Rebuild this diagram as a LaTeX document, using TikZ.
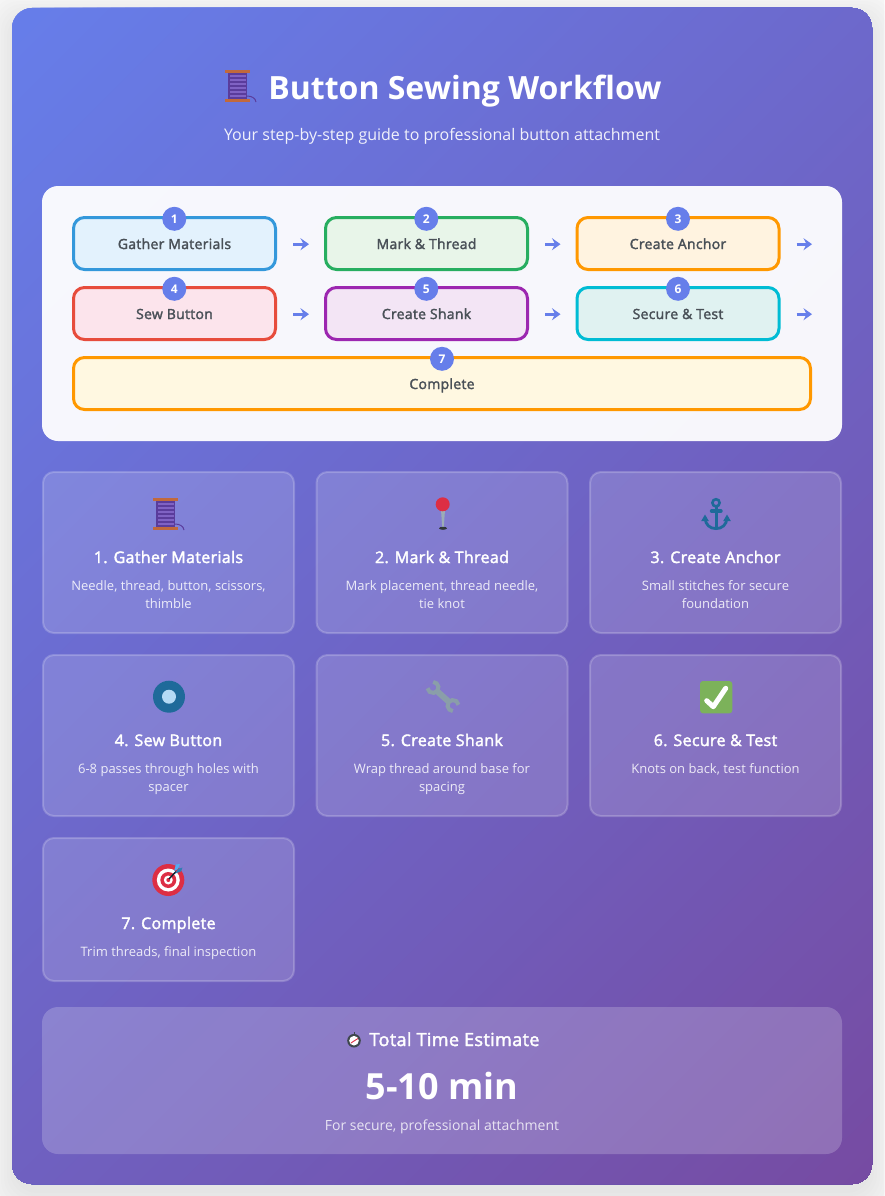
\documentclass[tikz,border=0pt]{standalone}
\usepackage{fontspec}
\setmainfont{Open Sans}
\newfontfamily\semibold{Open Sans}[FakeBold=2.2,LetterSpace=2.1]
\usetikzlibrary{arrows.meta}
\definecolor{gradA}{HTML}{667EEA}
\definecolor{gradB}{HTML}{764BA2}
\definecolor{pagebg}{HTML}{F9F9F9}
\definecolor{labelgrey}{HTML}{495057}
\definecolor{spoolorange}{HTML}{C1693C}
\definecolor{spooldark}{HTML}{5A3C9C}
\definecolor{spoollight}{HTML}{7F62C4}
\definecolor{anchorblue}{HTML}{1F6A9A}
\definecolor{buttoninner}{HTML}{B5DAF5}
\definecolor{targetred}{HTML}{DD2E44}
\definecolor{dartblue}{HTML}{55ACEE}
\definecolor{wrenchgrey}{HTML}{8A9EA9}
\definecolor{checkgreen}{HTML}{7CB25A}
\definecolor{stepAline}{HTML}{3498DB}\definecolor{stepAfill}{HTML}{E3F2FD}
\definecolor{stepBline}{HTML}{27AE60}\definecolor{stepBfill}{HTML}{E8F5E9}
\definecolor{stepCline}{HTML}{FF9800}\definecolor{stepCfill}{HTML}{FFF3E0}
\definecolor{stepDline}{HTML}{E74C3C}\definecolor{stepDfill}{HTML}{FCE4EC}
\definecolor{stepEline}{HTML}{9C27B0}\definecolor{stepEfill}{HTML}{F3E5F5}
\definecolor{stepFline}{HTML}{00BCD4}\definecolor{stepFfill}{HTML}{E0F2F1}
\definecolor{stepGfill}{HTML}{FFF8E1}
\tikzset{
  stepbox/.style 2 args={draw=#1,fill=#2,line width=3pt,rounded corners=11pt,minimum height=52pt,minimum width=202pt,inner sep=0pt,text=labelgrey,text height=14pt,text depth=3pt,font=\semibold\fontsize{14}{16}\selectfont},
  badge/.style={circle,fill=gradA,text=white,minimum size=24pt,inner sep=0pt,font=\bfseries\fontsize{12}{14}\selectfont},
  flowarrow/.style={draw=gradA,line width=2.7pt,transform canvas={yshift=-.7pt},shorten <=16pt,shorten >=15pt,-{Stealth[length=8.5pt,width=12pt,inset=3pt]}},
  cardbox/.style={draw=white,draw opacity=.2,fill=white,fill opacity=.15,line width=2pt,rounded corners=11pt,minimum width=251pt,inner sep=0pt},
  cardtitle/.style={anchor=base,text=white,font=\semibold\fontsize{16}{18}\selectfont,inner sep=0pt},
  carddesc/.style={anchor=base,text=white,text opacity=.85,font=\fontsize{13}{15}\selectfont,inner sep=0pt},
  spool/.pic={
    \fill[spooldark] (-9.5,-13) rectangle (9.5,13);
    \foreach \s in {-10.8,-6.8,-2.8,1.2,5.2,9.2}{\fill[spoollight] (-8,\s) rectangle (8,\s+2.2);}
    \fill[spoolorange] (-12.2,-16) rectangle (12.2,-13);
    \fill[spoolorange] (-12.2,13) rectangle (12.2,16);
    \draw[spooldark,line width=1pt] (9.5,10) .. controls (14,10) and (18,12) .. (18.5,16);
  },
}
\begin{document}
\begin{tikzpicture}[x=1pt,y=-1pt]
\useasboundingbox (0,0) rectangle (884,1196);
\fill[pagebg] (0,0) rectangle (884,1196);
% soft card shadow
\foreach \e in {26,23,20,17,14,11,8,5,2,-1}{
  \fill[black,opacity=.006,rounded corners=24pt] (12-\e,18-\e) rectangle (872+\e,1194+\e);
}
% card with diagonal gradient
\begin{scope}
  \clip[rounded corners=20pt] (12,8) rectangle (872,1184);
  \fill[gradA] (0,0) rectangle (884,1196);
  \foreach \i in {0,...,143}{
    \pgfmathsetmacro{\c}{20+14.1389*\i}
    \pgfmathsetmacro{\p}{(\i+.5)*0.69444}
    \colorlet{gradstep}{gradB!\p!gradA}
    \fill[gradstep] (\c,0) -- (\c-1200,1200) -- (2400,1200) -- (2400,0) -- cycle;
  }
\end{scope}
% header
\pic at (237.5,86) {spool};
\node[anchor=base,text=white,inner sep=0pt,font=\bfseries\fontsize{32}{38}\selectfont] (title) at (465,99.5) {Button Sewing Workflow};
\node[anchor=base,text=white,text opacity=.9,inner sep=0pt,font=\fontsize{16}{18}\selectfont] (subtitle) at (442,141) {Your step-by-step guide to professional button attachment};
% flow panel
\node[fill=white,fill opacity=.95,rounded corners=16pt,minimum width=800pt,minimum height=255pt,inner sep=0pt] (panel) at (442,313.5) {};
\node[stepbox={stepAline}{stepAfill}] (s1) at (174.5,243.5) {Gather Materials};
\node[stepbox={stepBline}{stepBfill}] (s2) at (426.5,243.5) {Mark \& Thread};
\node[stepbox={stepCline}{stepCfill}] (s3) at (678,243.5) {Create Anchor};
\node[stepbox={stepDline}{stepDfill}] (s4) at (174.5,313.5) {Sew Button};
\node[stepbox={stepEline}{stepEfill}] (s5) at (426.5,313.5) {Create Shank};
\node[stepbox={stepFline}{stepFfill}] (s6) at (678,313.5) {Secure \& Test};
\node[stepbox={stepCline}{stepGfill},minimum width=737pt] (s7) at (442,383.5) {Complete};
\node[badge] (b1) at (174.3,218.8) {1};
\node[badge] (b2) at (426.3,218.8) {2};
\node[badge] (b3) at (678,218.8) {3};
\node[badge] (b4) at (174.3,288.8) {4};
\node[badge] (b5) at (426.3,288.8) {5};
\node[badge] (b6) at (678,288.8) {6};
\node[badge] (b7) at (442,358.8) {7};
\coordinate (endA) at (827,243.5);
\coordinate (endB) at (827,313.5);
\draw[flowarrow] (s1.east) -- (s2.west);
\draw[flowarrow] (s2.east) -- (s3.west);
\draw[flowarrow] (s3.east) -- (endA);
\draw[flowarrow] (s4.east) -- (s5.west);
\draw[flowarrow] (s5.east) -- (s6.west);
\draw[flowarrow] (s6.east) -- (endB);
% detail cards
\node[cardbox,minimum height=161pt] (c1) at (168.5,552.5) {};
\node[cardbox,minimum height=161pt] (c2) at (442,552.5) {};
\node[cardbox,minimum height=161pt] (c3) at (715.5,552.5) {};
\node[cardbox,minimum height=161pt] (c4) at (168.5,735.5) {};
\node[cardbox,minimum height=161pt] (c5) at (442,735.5) {};
\node[cardbox,minimum height=161pt] (c6) at (715.5,735.5) {};
\node[cardbox,minimum height=143pt] (c7) at (168.5,909.5) {};
% icons
\pic at (165.5,514) {spool};
% pin
\fill[wrenchgrey!85!white] (441,510) -- (445,510) -- (443.8,527) -- (442.2,527) -- cycle;
\fill[black!65!wrenchgrey] (443,528.3) ellipse[x radius=4pt,y radius=1.5pt];
\fill[targetred] (442.7,504.3) circle[radius=7pt];
% anchor
\draw[anchorblue,line width=2.6pt] (716,502.8) circle[radius=3.6pt];
\draw[anchorblue,line width=3.4pt,line cap=round] (711.5,511) -- (721,511);
\draw[anchorblue,line width=3pt] (716,507) -- (716,529);
\draw[anchorblue,line width=2.8pt] (705,518) .. controls (705.5,525) and (710,528.6) .. (716,528.6) .. controls (722,528.6) and (726.5,525) .. (727,518);
\fill[anchorblue] (705,514.5) -- (708.8,521) -- (701.2,521) -- cycle;
\fill[anchorblue] (727,514.5) -- (730.8,521) -- (723.2,521) -- cycle;
% button
\fill[anchorblue] (169,696.7) circle[radius=16pt];
\fill[buttoninner] (169,696.7) circle[radius=7pt];
% wrench
\begin{scope}[shift={(443,696.5)},rotate=-42]
  \draw[wrenchgrey,line width=6pt] (-9,0) -- (9,0);
  \draw[wrenchgrey,line width=4pt] (-13.5,0) ++(-130:5.5pt) arc[start angle=-130,end angle=130,radius=5.5pt];
  \draw[wrenchgrey,line width=4pt] (13.5,0) ++(50:5.5pt) arc[start angle=50,end angle=310,radius=5.5pt];
\end{scope}
% check box
\fill[checkgreen,rounded corners=3pt] (700,681) rectangle (732.3,713.3);
\draw[white,line width=5pt,line cap=round,line join=round] (706.7,700.7) -- (713.3,706.7) -- (725.7,688.3);
% target
\fill[targetred] (168.3,880) circle[radius=16pt];
\fill[white] (168.3,880) circle[radius=11.5pt];
\fill[targetred] (168.3,880) circle[radius=8pt];
\fill[white] (168.3,880) circle[radius=4.5pt];
\fill[targetred] (168.3,880) circle[radius=2pt];
\draw[black!70!anchorblue,line width=1.4pt] (169,879) -- (176,871.5);
\fill[dartblue] (174,871) -- (176,864.5) -- (180,864) -- (178,869) -- cycle;
\fill[anchorblue!70!dartblue] (175,873.5) -- (181,871.5) -- (182.5,867.5) -- (178,869) -- cycle;
% card text
\node[cardtitle] (t1) at (168.5,563) {1. Gather Materials};
\node[carddesc] (d1a) at (168.5,590) {Needle, thread, button, scissors,};
\node[carddesc] (d1b) at (168.5,608) {thimble};
\node[cardtitle] (t2) at (442,563) {2. Mark \& Thread};
\node[carddesc] (d2a) at (442,590) {Mark placement, thread needle,};
\node[carddesc] (d2b) at (442,608) {tie knot};
\node[cardtitle] (t3) at (715.5,563) {3. Create Anchor};
\node[carddesc] (d3a) at (715.5,590) {Small stitches for secure};
\node[carddesc] (d3b) at (715.5,608) {foundation};
\node[cardtitle] (t4) at (168.5,746) {4. Sew Button};
\node[carddesc] (d4a) at (168.5,773) {6-8 passes through holes with};
\node[carddesc] (d4b) at (168.5,791) {spacer};
\node[cardtitle] (t5) at (442,746) {5. Create Shank};
\node[carddesc] (d5a) at (442,773) {Wrap thread around base for};
\node[carddesc] (d5b) at (442,791) {spacing};
\node[cardtitle] (t6) at (715.5,746) {6. Secure \& Test};
\node[carddesc] (d6a) at (715.5,773) {Knots on back, test function};
\node[cardtitle] (t7) at (168.5,929) {7. Complete};
\node[carddesc] (d7a) at (168.5,956) {Trim threads, final inspection};
% total
\node[fill=white,fill opacity=.2,rounded corners=16pt,minimum width=800pt,minimum height=147pt,inner sep=0pt] (total) at (442,1080.5) {};
\draw[black!55!wrenchgrey,line width=1pt] (354,1033.5) -- (354,1031.8);
\fill[black!55!wrenchgrey] (354,1040.7) circle[radius=6.8pt];
\fill[white] (354,1040.7) circle[radius=4.8pt];
\draw[targetred,line width=.9pt] (354,1041) -- (358,1038.5);
\draw[targetred,line width=.9pt] (354,1041) -- (351,1043);
\node[anchor=base,text=white,inner sep=0pt,font=\semibold\fontsize{18}{20}\selectfont] (totaltitle) at (454.5,1046) {Total Time Estimate};
\node[anchor=base,text=white,inner sep=0pt,font=\bfseries\fontsize{36}{40}\selectfont] (totaltime) at (442,1099) {5-10 min};
\node[anchor=base,text=white,text opacity=.8,inner sep=0pt,font=\fontsize{14}{16}\selectfont] (totalnote) at (442,1130) {For secure, professional attachment};
\end{tikzpicture}
\end{document}
